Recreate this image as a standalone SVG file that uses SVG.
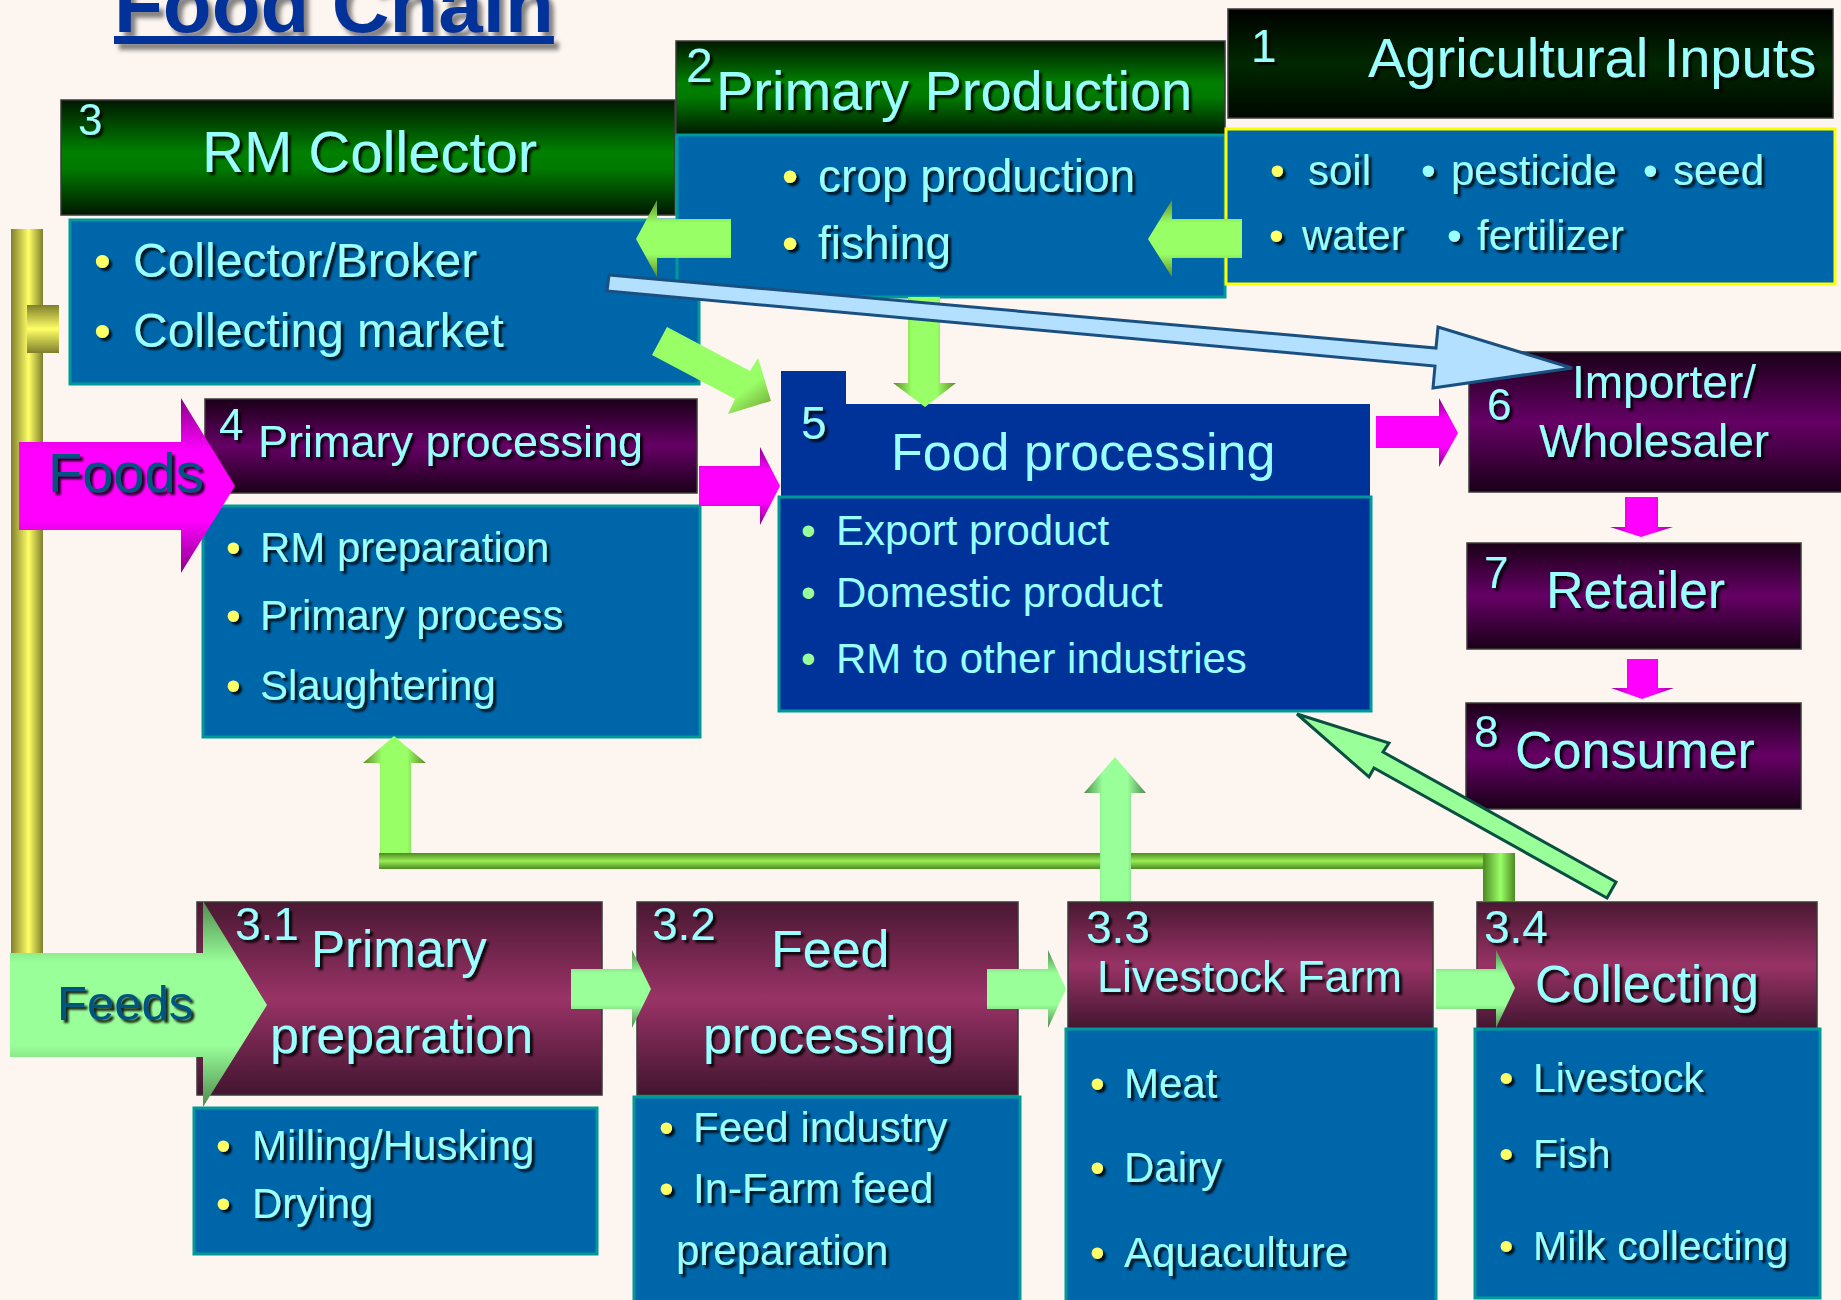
<svg xmlns="http://www.w3.org/2000/svg" width="1841" height="1300" viewBox="0 0 1841 1300">
<defs>
<style>
.t{font-family:"Liberation Sans",Arial,sans-serif;fill:#99FFFF;}
.b{fill:#FFFF66;}
.gb{fill:#99FF99;}
.blue{fill:#0066AA;stroke:#009999;stroke-width:3;}
.hdr{stroke:#3a3a3a;stroke-width:1.5;}
</style>
<filter id="sh" x="-10%" y="-20%" width="130%" height="150%"><feDropShadow dx="3" dy="3" stdDeviation="1.2" flood-color="#000" flood-opacity="0.85"/></filter>
<filter id="tsh" x="-10%" y="-30%" width="130%" height="160%"><feDropShadow dx="5" dy="6" stdDeviation="2" flood-color="#666" flood-opacity="0.8"/></filter>
<linearGradient id="gGreen" x1="0" y1="0" x2="0" y2="1"><stop offset="0" stop-color="#001800"/><stop offset="0.45" stop-color="#008000"/><stop offset="0.6" stop-color="#007a00"/><stop offset="1" stop-color="#001800"/></linearGradient>
<linearGradient id="gBlack" x1="0" y1="0" x2="0" y2="1"><stop offset="0" stop-color="#000"/><stop offset="0.5" stop-color="#012801"/><stop offset="1" stop-color="#000800"/></linearGradient>
<linearGradient id="gPurple" x1="0" y1="0" x2="0" y2="1"><stop offset="0" stop-color="#1a0018"/><stop offset="0.5" stop-color="#660066"/><stop offset="1" stop-color="#1a0018"/></linearGradient>
<linearGradient id="gMaroon" x1="0" y1="0" x2="0" y2="1"><stop offset="0" stop-color="#4a1832"/><stop offset="0.5" stop-color="#993366"/><stop offset="1" stop-color="#421530"/></linearGradient>
<linearGradient id="gYelH" x1="0" y1="0" x2="1" y2="0"><stop offset="0" stop-color="#7f7f2c"/><stop offset="0.55" stop-color="#FFFF66"/><stop offset="1" stop-color="#7f7f2c"/></linearGradient>
<linearGradient id="gYelV" x1="0" y1="0" x2="0" y2="1"><stop offset="0" stop-color="#7f7f2c"/><stop offset="0.5" stop-color="#FFFF66"/><stop offset="1" stop-color="#7f7f2c"/></linearGradient>
<linearGradient id="gLimeV" x1="0" y1="0" x2="0" y2="1"><stop offset="0" stop-color="#5f8a25"/><stop offset="0.3" stop-color="#99FF66"/><stop offset="0.7" stop-color="#99FF66"/><stop offset="1" stop-color="#5f8a25"/></linearGradient>
<linearGradient id="gLimeH" x1="0" y1="0" x2="1" y2="0"><stop offset="0" stop-color="#5f8a25"/><stop offset="0.3" stop-color="#99FF66"/><stop offset="0.7" stop-color="#99FF66"/><stop offset="1" stop-color="#5f8a25"/></linearGradient>
<linearGradient id="gLimeD" x1="0" y1="0" x2="1" y2="1"><stop offset="0" stop-color="#99FF66"/><stop offset="0.75" stop-color="#99FF66"/><stop offset="1" stop-color="#6f9a30"/></linearGradient>
<linearGradient id="gMintV" x1="0" y1="0" x2="0" y2="1"><stop offset="0" stop-color="#4f8a4f"/><stop offset="0.3" stop-color="#99FF99"/><stop offset="0.7" stop-color="#99FF99"/><stop offset="1" stop-color="#4f8a4f"/></linearGradient>
<linearGradient id="gMintH" x1="0" y1="0" x2="1" y2="0"><stop offset="0" stop-color="#4f8a4f"/><stop offset="0.3" stop-color="#99FF99"/><stop offset="0.7" stop-color="#99FF99"/><stop offset="1" stop-color="#4f8a4f"/></linearGradient>
<linearGradient id="gMagV" x1="0" y1="0" x2="0" y2="1"><stop offset="0" stop-color="#880088"/><stop offset="0.3" stop-color="#FF00FF"/><stop offset="0.7" stop-color="#FF00FF"/><stop offset="1" stop-color="#880088"/></linearGradient>
<linearGradient id="gMagH" x1="0" y1="0" x2="1" y2="0"><stop offset="0" stop-color="#990099"/><stop offset="0.3" stop-color="#FF00FF"/><stop offset="0.7" stop-color="#FF00FF"/><stop offset="1" stop-color="#990099"/></linearGradient>
<linearGradient id="gBarV" x1="0" y1="0" x2="0" y2="1"><stop offset="0" stop-color="#4d8a22"/><stop offset="0.5" stop-color="#99EE55"/><stop offset="1" stop-color="#4d8a22"/></linearGradient>
<linearGradient id="gBarH" x1="0" y1="0" x2="1" y2="0"><stop offset="0" stop-color="#4d8a22"/><stop offset="0.55" stop-color="#99FF66"/><stop offset="1" stop-color="#4d8a22"/></linearGradient>
</defs>

<rect x="0" y="0" width="1841" height="1300" fill="#FDF5EF"/>

<g id="title" filter="url(#tsh)">
<text x="114" y="32" font-family="Liberation Sans, Arial, sans-serif" font-weight="bold" font-size="80" fill="#003399" text-decoration="underline">Food Chain</text>
</g>

<g id="node3">
<rect x="70" y="220" width="629" height="164" class="blue"/>
<rect x="61" y="100" width="614" height="115" fill="url(#gGreen)" class="hdr"/>
<g filter="url(#sh)">
<text class="t" x="78" y="135" font-size="44">3</text>
<text class="t" x="202" y="172" font-size="58">RM Collector</text>
<text class="t" y="277" font-size="48"><tspan class="b" x="94">•</tspan><tspan x="133">Collector/Broker</tspan></text>
<text class="t" y="347" font-size="48"><tspan class="b" x="94">•</tspan><tspan x="133">Collecting market</tspan></text>
</g>
</g>

<g id="node2">
<rect x="676" y="41" width="549" height="94" fill="url(#gGreen)" class="hdr"/>
<rect x="677" y="135" width="548" height="162" class="blue"/>
<g filter="url(#sh)">
<text class="t" x="686" y="82" font-size="48">2</text>
<text class="t" x="716" y="110" font-size="56">Primary Production</text>
<text class="t" y="192" font-size="46"><tspan class="b" x="782">•</tspan><tspan x="818">crop production</tspan></text>
<text class="t" y="259" font-size="46"><tspan class="b" x="782">•</tspan><tspan x="818">fishing</tspan></text>
</g>
</g>

<g id="node1">
<rect x="1228" y="9" width="605" height="109" fill="url(#gBlack)" class="hdr"/>
<rect x="1226" y="129" width="609" height="155" fill="#0066AA" stroke="#FFFF00" stroke-width="3"/>
<g filter="url(#sh)">
<text class="t" x="1251" y="62" font-size="46">1</text>
<text class="t" x="1368" y="77" font-size="56">Agricultural Inputs</text>
<text class="t" y="185" font-size="42"><tspan class="b" x="1270">•</tspan><tspan x="1308">soil</tspan><tspan x="1421">•</tspan><tspan x="1451">pesticide</tspan><tspan x="1643">•</tspan><tspan x="1673">seed</tspan></text>
<text class="t" y="250" font-size="42"><tspan class="b" x="1269">•</tspan><tspan x="1302">water</tspan><tspan x="1447">•</tspan><tspan x="1477">fertilizer</tspan></text>
</g>
</g>

<g id="node4">
<rect x="205" y="399" width="492" height="94" fill="url(#gPurple)" class="hdr"/>
<rect x="203" y="506" width="497" height="231" class="blue"/>
<g filter="url(#sh)">
<text class="t" x="219" y="440" font-size="44">4</text>
<text class="t" x="258" y="457" font-size="45">Primary processing</text>
<text class="t" y="562" font-size="42"><tspan class="b" x="226">•</tspan><tspan x="260">RM preparation</tspan></text>
<text class="t" y="630" font-size="42"><tspan class="b" x="226">•</tspan><tspan x="260">Primary process</tspan></text>
<text class="t" y="700" font-size="42"><tspan class="b" x="226">•</tspan><tspan x="260">Slaughtering</tspan></text>
</g>
</g>

<g id="node5">
<path d="M781,371 H846 V404 H1370 V497 H781 Z" fill="#003399"/>
<rect x="779" y="497" width="592" height="214" fill="#003399" stroke="#009999" stroke-width="3"/>
<text class="t" x="801" y="439" font-size="46" filter="url(#sh)">5</text>
<text class="t" x="891" y="470" font-size="52">Food processing</text>
<text class="t" y="545" font-size="42"><tspan class="gb" x="801">•</tspan><tspan x="836">Export product</tspan></text>
<text class="t" y="607" font-size="42"><tspan class="gb" x="801">•</tspan><tspan x="836">Domestic product</tspan></text>
<text class="t" y="673" font-size="42"><tspan class="gb" x="801">•</tspan><tspan x="836">RM to other industries</tspan></text>
</g>

<g id="node6">
<rect x="1469" y="352" width="380" height="140" fill="url(#gPurple)" class="hdr"/>
<g filter="url(#sh)">
<text class="t" x="1487" y="420" font-size="44">6</text>
<text class="t" x="1572" y="398" font-size="46">Importer/</text>
<text class="t" x="1539" y="457" font-size="46">Wholesaler</text>
</g>
</g>

<g id="node7">
<rect x="1467" y="543" width="334" height="106" fill="url(#gPurple)" class="hdr"/>
<g filter="url(#sh)">
<text class="t" x="1484" y="588" font-size="44">7</text>
<text class="t" x="1546" y="608" font-size="52">Retailer</text>
</g>
</g>

<g id="node8">
<rect x="1466" y="703" width="335" height="106" fill="url(#gPurple)" class="hdr"/>
<g filter="url(#sh)">
<text class="t" x="1474" y="747" font-size="44">8</text>
<text class="t" x="1515" y="768" font-size="52">Consumer</text>
</g>
</g>

<g id="node3-1">
<rect x="197" y="902" width="405" height="193" fill="url(#gMaroon)" class="hdr"/>
<rect x="194" y="1108" width="403" height="146" class="blue"/>
<g filter="url(#sh)">
<text class="t" x="235" y="940" font-size="46">3.1</text>
<text class="t" x="311" y="967" font-size="51">Primary</text>
<text class="t" x="270" y="1053" font-size="52">preparation</text>
<text class="t" y="1160" font-size="42"><tspan class="b" x="216">•</tspan><tspan x="252">Milling/Husking</tspan></text>
<text class="t" y="1218" font-size="42"><tspan class="b" x="216">•</tspan><tspan x="252">Drying</tspan></text>
</g>
</g>

<g id="node3-2">
<rect x="637" y="902" width="381" height="193" fill="url(#gMaroon)" class="hdr"/>
<rect x="634" y="1097" width="386" height="215" class="blue"/>
<g filter="url(#sh)">
<text class="t" x="652" y="940" font-size="46">3.2</text>
<text class="t" x="771" y="967" font-size="52">Feed</text>
<text class="t" x="703" y="1053" font-size="52">processing</text>
<text class="t" y="1142" font-size="42"><tspan class="b" x="659">•</tspan><tspan x="693">Feed industry</tspan></text>
<text class="t" y="1203" font-size="42"><tspan class="b" x="659">•</tspan><tspan x="693">In-Farm feed</tspan></text>
<text class="t" x="676" y="1265" font-size="42">preparation</text>
</g>
</g>

<g id="node3-3">
<rect x="1068" y="902" width="365" height="127" fill="url(#gMaroon)" class="hdr"/>
<rect x="1066" y="1029" width="370" height="283" class="blue"/>
<g filter="url(#sh)">
<text class="t" x="1086" y="943" font-size="46">3.3</text>
<text class="t" x="1097" y="992" font-size="45">Livestock Farm</text>
<text class="t" y="1098" font-size="42"><tspan class="b" x="1090">•</tspan><tspan x="1124">Meat</tspan></text>
<text class="t" y="1182" font-size="42"><tspan class="b" x="1090">•</tspan><tspan x="1124">Dairy</tspan></text>
<text class="t" y="1267" font-size="42"><tspan class="b" x="1090">•</tspan><tspan x="1124">Aquaculture</tspan></text>
</g>
</g>

<g id="node3-4">
<rect x="1477" y="902" width="340" height="127" fill="url(#gMaroon)" class="hdr"/>
<rect x="1475" y="1029" width="345" height="269" class="blue"/>
<g filter="url(#sh)">
<text class="t" x="1484" y="943" font-size="46">3.4</text>
<text class="t" x="1535" y="1002" font-size="51">Collecting</text>
<text class="t" y="1092" font-size="41"><tspan class="b" x="1499">•</tspan><tspan x="1533">Livestock</tspan></text>
<text class="t" y="1168" font-size="41"><tspan class="b" x="1499">•</tspan><tspan x="1533">Fish</tspan></text>
<text class="t" y="1260" font-size="41"><tspan class="b" x="1499">•</tspan><tspan x="1533">Milk collecting</tspan></text>
</g>
</g>

<g id="connectors">
<rect x="11" y="229" width="32" height="724" fill="url(#gYelH)"/>
<rect x="27" y="305" width="32" height="48" fill="url(#gYelV)"/>
<polygon points="380,868 380,763 363,763 394,736 426,763 411,763 411,868" fill="url(#gLimeH)"/>
<rect x="379" y="853" width="1136" height="16" fill="url(#gBarV)"/>
<rect x="1483" y="853" width="32" height="48" fill="url(#gBarH)"/>
<polygon points="1100,901 1100,793 1084,793 1115,757 1146,793 1131,793 1131,901" fill="url(#gMintH)"/>
<polygon points="571,969 632,969 632,950 651,989 632,1028 632,1009 571,1009" fill="url(#gMintV)"/>
<polygon points="987,969 1048,969 1048,950 1066,989 1048,1028 1048,1009 987,1009" fill="url(#gMintV)"/>
<polygon points="1436,969 1496,969 1496,950 1515,988 1496,1028 1496,1009 1436,1009" fill="url(#gMintV)"/>
<polygon points="10,953 203,953 203,901 267,1005 203,1107 203,1057 10,1057" fill="url(#gMintV)"/>
<polygon points="19,442 181,442 181,398 235,486 181,573 181,530 19,530" fill="url(#gMagV)"/>
<polygon points="699,466 760,466 760,447 780,486 760,525 760,506 699,506" fill="url(#gMagV)"/>
<polygon points="1376,416 1439,416 1439,398 1458,433 1439,467 1439,448 1376,448" fill="url(#gMagV)"/>
<polygon points="1625,497 1658,497 1658,527 1673,527 1641,537 1610,527 1625,527" fill="url(#gMagH)"/>
<polygon points="1627,659 1658,659 1658,688 1674,688 1642,699 1611,688 1627,688" fill="url(#gMagH)"/>
<polygon points="1242,219 1172,219 1172,200 1148,239 1172,277 1172,258 1242,258" fill="url(#gLimeV)"/>
<polygon points="731,219 657,219 657,200 636,239 657,277 657,258 731,258" fill="url(#gLimeV)"/>
<polygon points="908,297 940,297 940,383 956,383 925,407 893,383 908,383" fill="url(#gLimeH)"/>
<polygon points="667,327 750,371 758,358 771,401 728,414 735,399 652,355" fill="url(#gLimeD)"/>
<polygon points="1297,714 1389,743 1383,752 1616,882 1607,898 1374,768 1369,777" fill="#99FF99" stroke="#0a5040" stroke-width="3" stroke-linejoin="miter"/>
<polygon points="609,275 1436,348 1438,327 1572,368 1433,388 1435,366 607,291" fill="#B3E0FF" stroke="#1a5080" stroke-width="3"/>
</g>
<g id="labels" filter="url(#sh)">
<text x="48" y="492" font-family="Liberation Sans, Arial, sans-serif" font-size="56" fill="#005580">Foods</text>
<text x="57" y="1020" font-family="Liberation Sans, Arial, sans-serif" font-size="49" fill="#005580">Feeds</text>
</g>
</svg>
